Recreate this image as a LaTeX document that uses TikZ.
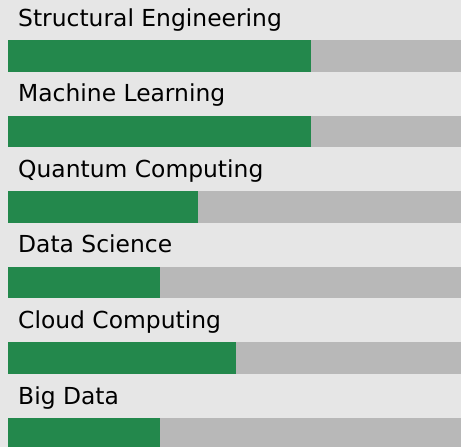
\documentclass[tikz,border=0pt]{standalone}
\usepackage{fontspec}
\setmainfont{DejaVu Sans}
\usetikzlibrary{positioning}
\definecolor{skillgreen}{HTML}{23884C}
\definecolor{skillgray}{HTML}{B8B8B8}
\definecolor{skillbg}{HTML}{E6E6E6}
\tikzstyle{label} = [anchor=base west, inner sep=0pt, font=\fontsize{23.4}{27}\selectfont, text=black]
\tikzstyle{track} = [fill=skillgray]
\tikzstyle{level} = [fill=skillgreen]

\begin{document}
\begin{tikzpicture}[x=1pt,y=-1pt]
	\fill[skillbg] (0,0) rectangle (461,447);
	\useasboundingbox (0,0) rectangle (461,447);
	\foreach \name/\txt/\val [count=\i from 0] in {se/Structural Engineering/311,ml/Machine Learning/311,qc/Quantum Computing/198,ds/Data Science/160,cc/Cloud Computing/236,bd/Big Data/160}
	{
	\node[label] (\name) at (18,26+75.6*\i) {\txt};
	\fill[track] (8,40+75.6*\i) rectangle (461,71.5+75.6*\i);
	\fill[level] (8,40+75.6*\i) rectangle (\val,71.5+75.6*\i);
	}
\end{tikzpicture}
\end{document}
